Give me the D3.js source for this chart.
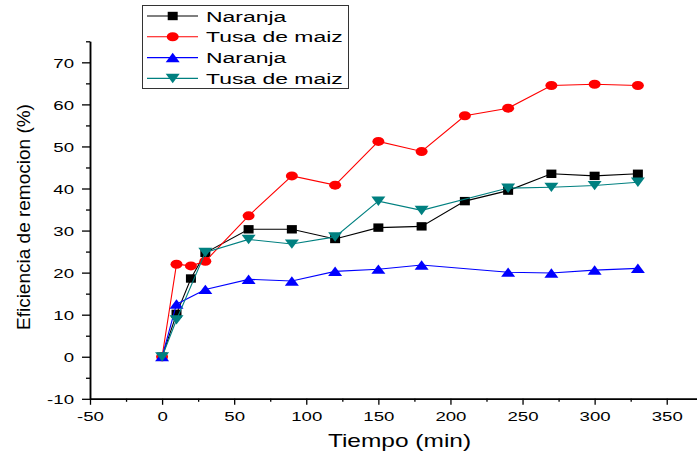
<!DOCTYPE html>
<html>
<head>
<meta charset="utf-8">
<script src="https://cdn.jsdelivr.net/npm/d3@7"></script>
<style>
  body { margin: 0; background: #fff; }
  svg { display: block; font-family: Arial, "Liberation Sans", sans-serif; }
</style>
</head>
<body>
<div class="chart"></div>
<script>
// Data
const times1 = [0, 10, 20, 30, 60, 90, 120, 150, 180, 210, 240, 270, 300, 330];
const naranja1 = [0, 10.2, 18.6, 24.7, 30.3, 30.3, 28.0, 30.7, 31.0, 37.0, 39.5, 43.5, 43.0, 43.5];
const tusa1 = [0, 22.0, 21.6, 22.7, 33.5, 43.0, 40.8, 51.2, 48.8, 57.3, 59.1, 64.5, 64.8, 64.5];
const times2 = [0, 10, 30, 60, 90, 120, 150, 180, 240, 270, 300, 330];
const naranja2 = [0, 12.5, 16.0, 18.4, 18.0, 20.3, 20.8, 21.8, 20.1, 19.9, 20.6, 21.0];
const tusa2 = [0, 8.8, 24.8, 27.9, 26.8, 28.5, 37.0, 34.8, 40.1, 40.3, 40.7, 41.5];

const seriesNames = ['Naranja', 'Tusa de maiz', 'Naranja', 'Tusa de maiz'];
const xTicks = [-50, 0, 50, 100, 150, 200, 250, 300, 350];
const yTicks = [-10, 0, 10, 20, 30, 40, 50, 60, 70];

const width = 697, height = 455;
const sx = 1.38; // the picture is stretched sideways

const series = [
  {name: seriesNames[0], t: times1, v: naranja1, color: '#000000', shape: 'square'},
  {name: seriesNames[1], t: times1, v: tusa1, color: '#ff0000', shape: 'circle'},
  {name: seriesNames[2], t: times2, v: naranja2, color: '#0000ff', shape: 'up'},
  {name: seriesNames[3], t: times2, v: tusa2, color: '#008080', shape: 'down'}
];

const x = d3.scaleLinear().domain([-50, 371]).range([90, 697]);
const y = d3.scaleLinear().domain([-10, 75]).range([398.8, 41.3]);

const svg = d3.select('.chart').append('svg')
  .attr('width', width).attr('height', height);

function markerPath(shape) {
  if (shape === 'square') return 'M-5,-4.2H5V4.2H-5Z';
  if (shape === 'circle') return 'M-6,0A6,4.5 0 1,0 6,0A6,4.5 0 1,0 -6,0Z';
  if (shape === 'up') return 'M0,-4.8L7,4.6L-7,4.6Z';
  return 'M0,4.8L7,-4.6L-7,-4.6Z';
}

// axes
const xAxis = svg.append('g').attr('transform', `translate(0,${y(-10)})`)
  .call(d3.axisBottom(x).tickValues(xTicks).tickSize(6).tickSizeOuter(0).tickFormat(d => String(d)));
svg.append('g').attr('transform', `translate(0,${y(-10)})`)
  .call(d3.axisBottom(x).tickValues(d3.range(-25, 371, 50)).tickSize(3).tickSizeOuter(0).tickFormat(''));
const yAxis = svg.append('g').attr('transform', `translate(${x(-50)},0)`)
  .call(d3.axisLeft(y).tickValues(yTicks).tickSize(8).tickSizeOuter(0).tickFormat(d => String(d)));
svg.append('g').attr('transform', `translate(${x(-50)},0)`)
  .call(d3.axisLeft(y).tickValues(d3.range(-5, 76, 10)).tickSize(4).tickSizeOuter(0).tickFormat(''));

svg.selectAll('.domain').attr('stroke', '#000').attr('stroke-width', 1.5);
svg.selectAll('.tick line').attr('stroke', '#000').attr('stroke-width', 1.3);

xAxis.selectAll('text').attr('font-size', 13.5).attr('fill', '#000')
  .attr('y', 0).attr('dy', '0').attr('transform', `translate(0,22) scale(${sx},1)`);
yAxis.selectAll('text').attr('font-size', 13.5).attr('fill', '#000')
  .attr('x', 0).attr('dy', '0.35em').attr('transform', `translate(-16,0) scale(${sx},1)`);

// axis titles
svg.append('text').attr('transform', `translate(${(x(-50) + width) / 2 + 6},447) scale(1.4,1)`)
  .attr('text-anchor', 'middle').attr('font-size', 17.5).text('Tiempo (min)');
svg.append('text').attr('transform', `translate(30,${(y(75) + y(-10)) / 2 - 3}) rotate(-90)`)
  .attr('text-anchor', 'middle').attr('font-size', 19).text('Eficiencia de remocion (%)');

// lines and markers
const line = d3.line().x(d => x(d[0])).y(d => y(d[1]));
series.forEach(s => {
  const pts = s.t.map((t, i) => [t, s.v[i]]);
  svg.append('path').datum(pts).attr('d', line)
    .attr('fill', 'none').attr('stroke', s.color).attr('stroke-width', 1.1);
  svg.append('g').selectAll('path').data(pts).enter().append('path')
    .attr('d', markerPath(s.shape))
    .attr('transform', d => `translate(${x(d[0])},${y(d[1])})`)
    .attr('fill', s.color);
});

// legend
const legend = svg.append('g');
legend.append('rect').attr('x', 142.5).attr('y', 5.5).attr('width', 206).attr('height', 83)
  .attr('fill', '#fff').attr('stroke', '#333').attr('stroke-width', 1);
series.forEach((s, i) => {
  const ly = 16 + i * 20.8;
  legend.append('line').attr('x1', 147).attr('x2', 198).attr('y1', ly).attr('y2', ly)
    .attr('stroke', s.color).attr('stroke-width', 1.1);
  legend.append('path').attr('d', markerPath(s.shape))
    .attr('transform', `translate(172.7,${ly})`).attr('fill', s.color);
  legend.append('text').attr('transform', `translate(206,${ly + 5.5}) scale(1.48,1)`)
    .attr('font-size', 15.5).text(s.name);
});
</script>
</body>
</html>
